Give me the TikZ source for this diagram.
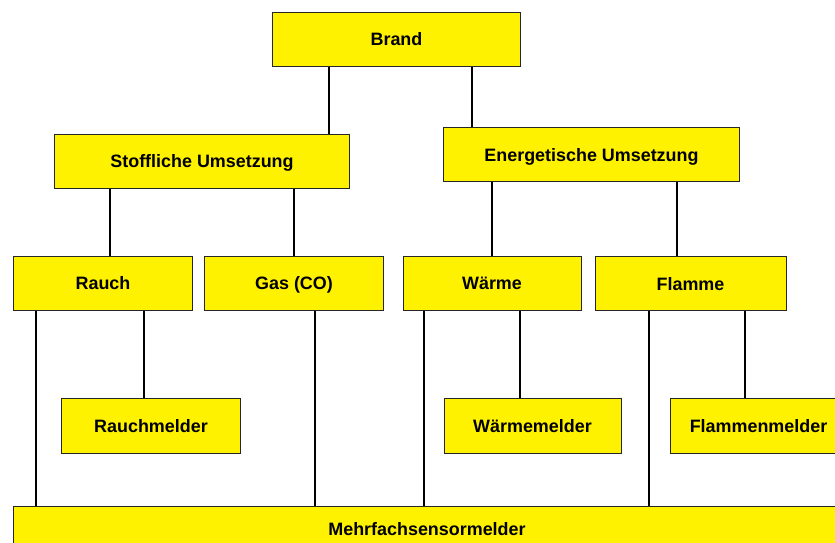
\documentclass[tikz,border=0pt]{standalone}
\usepackage{fontspec}
\setmainfont{Liberation Sans}
\usetikzlibrary{positioning}

\tikzset{
    box/.style={draw=black!85, line width=0.03cm, fill=yellow, inner sep=0pt,
        minimum height=1.64cm, text height=0.45cm, text depth=0.063cm,
        font=\bfseries\fontsize{15.3}{18}\selectfont},
    link/.style={line width=0.06cm, black}
}

\begin{document}
\begin{tikzpicture}[x=0.03cm, y=-0.03cm]

\useasboundingbox (0,0) rectangle (835,543);

\node[box, minimum width=7.41cm] (brand) at (396.5,39.5) {Brand};
\node[box, minimum width=8.82cm] (stoff) at (202,161.5) {Stoffliche Umsetzung};
\node[box, minimum width=8.85cm, minimum height=1.62cm] (energ) at (591.5,155) {Energetische Umsetzung};

\node[box, minimum width=5.34cm] (rauch) at (103,283.5) {Rauch};
\node[box, minimum width=5.34cm] (gas) at (294,283.5) {Gas (CO)};
\node[box, minimum width=5.34cm] (waerme) at (492,283.5) {Wärme};
\node[box, minimum width=5.73cm, minimum height=1.62cm] (flamme) at (690.5,284) {Flamme};

\node[box, minimum width=5.34cm, minimum height=1.62cm] (rauchmelder) at (151,426) {Rauchmelder};
\node[box, minimum width=5.31cm, minimum height=1.62cm] (waermemelder) at (532.5,426) {Wärmemelder};
\node[box, minimum width=5.31cm, minimum height=1.62cm] (flammenmelder) at (758.5,426) {Flammenmelder};

\node[box, minimum width=24.78cm, minimum height=1.35cm] (mehrfach) at (427,529.5) {Mehrfachsensormelder};

% vertical links, each at its own x position
\foreach \a/\b/\x in {
    brand/stoff/329,
    brand/energ/472,
    stoff/rauch/110,
    stoff/gas/294,
    energ/waerme/492,
    energ/flamme/677,
    rauch/rauchmelder/144,
    rauch/mehrfach/36,
    gas/mehrfach/315,
    waerme/waermemelder/520,
    waerme/mehrfach/424,
    flamme/flammenmelder/745,
    flamme/mehrfach/649
} {
    \draw[link] (\x,0 |- \a.south) -- (\x,0 |- \b.north);
}

\end{tikzpicture}
\end{document}
